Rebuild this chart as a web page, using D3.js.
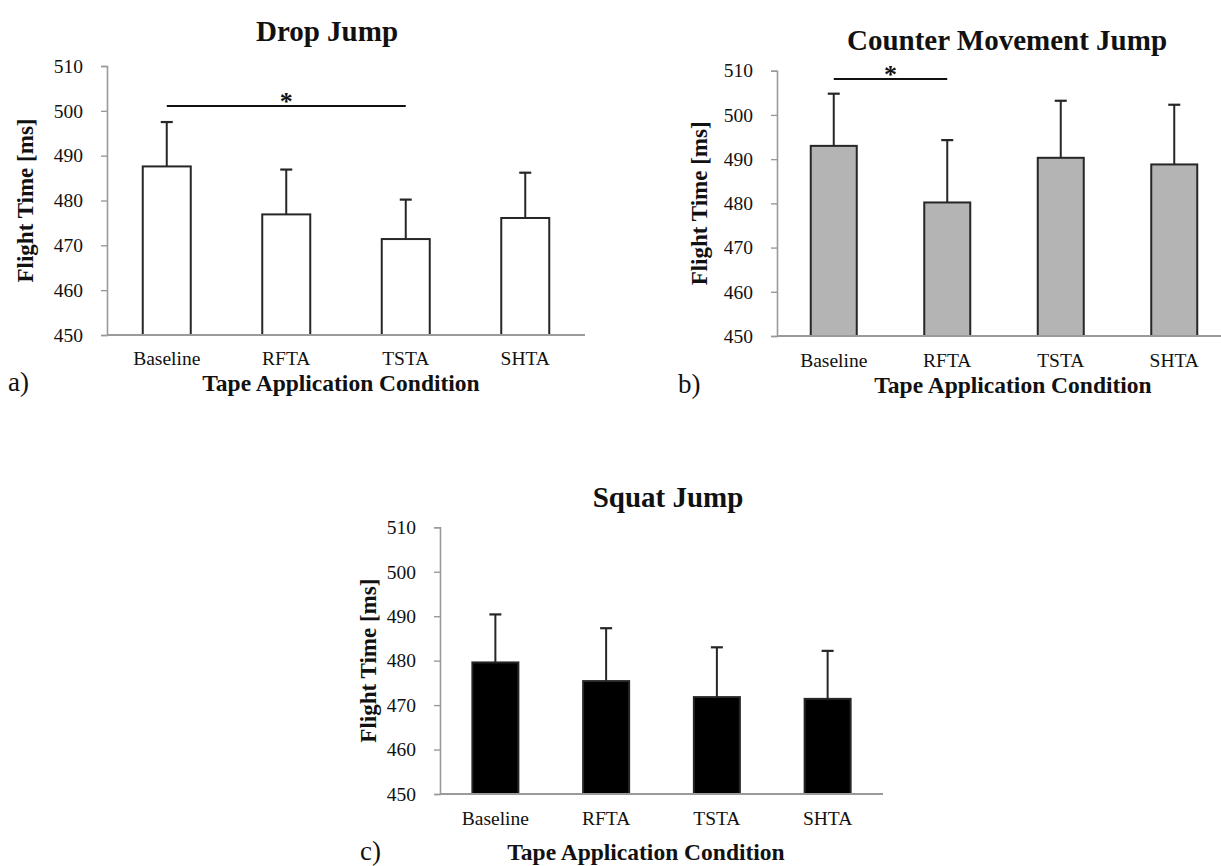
<!DOCTYPE html>
<html>
<head>
<meta charset="utf-8">
<script src="https://cdn.jsdelivr.net/npm/d3@7"></script>
<style>
  html, body { margin: 0; padding: 0; background: #fff; }
  svg { display: block; }
  text { font-family: "Liberation Serif", "Times New Roman", serif; fill: #111; }
</style>
</head>
<body>
<svg id="fig" width="1221" height="866"></svg>
<script>
// Flight time (ms) per tape application condition: mean and SD
const categories = ["Baseline", "RFTA", "TSTA", "SHTA"];
const yTicks = [450, 460, 470, 480, 490, 500, 510];

const dropJumpMean = [487.6, 476.9, 471.4, 476.1];
const dropJumpSD   = [9.9, 10.0, 8.8, 10.1];

const cmjMean = [493.0, 480.2, 490.3, 488.8];
const cmjSD   = [11.8, 14.1, 12.9, 13.5];

const squatMean = [479.6, 475.4, 471.8, 471.4];
const squatSD   = [10.8, 11.9, 11.2, 10.8];

// significant pairwise difference marked with a bracket line and asterisk
const dropJumpSig = [{ from: "Baseline", to: "TSTA", level: 501.1 }];
const cmjSig      = [{ from: "Baseline", to: "RFTA", level: 508.1 }];
const squatSig    = [];

const svg = d3.select("#fig");

function drawPanel(cfg) {
  const g = svg.append("g");
  const data = categories.map((c, i) => ({ cat: c, mean: cfg.mean[i], sd: cfg.sd[i] }));

  const x = d3.scalePoint().domain(categories).range([cfg.left, cfg.right]).padding(0.5);
  const y = d3.scaleLinear().domain([450, 510]).range([cfg.bottom, cfg.top]);

  // y axis
  const yAxis = d3.axisLeft(y).tickValues(yTicks).tickSize(6).tickPadding(18).tickFormat(d3.format("d"));
  const ya = g.append("g").attr("transform", `translate(${cfg.left},0)`).call(yAxis);
  ya.select(".domain").attr("stroke", "#9a9a9a").attr("stroke-width", 1.6);
  ya.selectAll(".tick line").attr("stroke", "#9a9a9a").attr("stroke-width", 1.4);
  ya.selectAll(".tick text")
    .style("font-family", "Liberation Serif")
    .style("font-size", "19.5px")
    .attr("fill", "#111");

  // bars
  g.selectAll("rect.bar").data(data).join("rect")
    .attr("class", "bar")
    .attr("x", d => x(d.cat) - cfg.barW / 2)
    .attr("y", d => y(d.mean))
    .attr("width", cfg.barW)
    .attr("height", d => y(450) - y(d.mean))
    .attr("fill", cfg.fill)
    .attr("stroke", "#262626")
    .attr("stroke-width", 2);

  // upper error bars
  g.selectAll("line.err").data(data).join("line")
    .attr("class", "err")
    .attr("x1", d => x(d.cat)).attr("x2", d => x(d.cat))
    .attr("y1", d => y(d.mean)).attr("y2", d => y(d.mean + d.sd))
    .attr("stroke", "#262626").attr("stroke-width", 2);
  g.selectAll("line.cap").data(data).join("line")
    .attr("class", "cap")
    .attr("x1", d => x(d.cat) - 6).attr("x2", d => x(d.cat) + 6)
    .attr("y1", d => y(d.mean + d.sd)).attr("y2", d => y(d.mean + d.sd))
    .attr("stroke", "#262626").attr("stroke-width", 2.2);

  // x baseline
  g.append("line")
    .attr("x1", cfg.left).attr("x2", cfg.right)
    .attr("y1", y(450)).attr("y2", y(450))
    .attr("stroke", "#9a9a9a").attr("stroke-width", 1.8);

  // category labels
  g.selectAll("text.cat").data(categories).join("text")
    .attr("class", "cat")
    .attr("x", d => x(d))
    .attr("y", cfg.catY)
    .attr("text-anchor", "middle")
    .style("font-size", "19.5px")
    .text(d => d);

  // significance brackets
  cfg.sig.forEach(s => {
    const yy = y(s.level);
    g.append("line")
      .attr("x1", x(s.from)).attr("x2", x(s.to))
      .attr("y1", yy).attr("y2", yy)
      .attr("stroke", "#111").attr("stroke-width", 2);
    g.append("text")
      .attr("x", (x(s.from) + x(s.to)) / 2)
      .attr("y", yy + 4)
      .attr("text-anchor", "middle")
      .style("font-size", "26px")
      .style("font-weight", "bold")
      .text("*");
  });

  // title
  g.append("text")
    .attr("x", cfg.titleX).attr("y", cfg.titleY)
    .attr("text-anchor", "middle")
    .style("font-size", "29px").style("font-weight", "bold")
    .text(cfg.title);

  // y-axis title
  g.append("text")
    .attr("transform", `translate(${cfg.yLabX},${(cfg.top + cfg.bottom) / 2}) rotate(-90)`)
    .attr("text-anchor", "middle")
    .style("font-size", "23px").style("font-weight", "bold")
    .text("Flight Time [ms]");

  // x-axis title
  g.append("text")
    .attr("x", cfg.xLabX).attr("y", cfg.xLabY)
    .attr("text-anchor", "middle")
    .style("font-size", "23.5px").style("font-weight", "bold")
    .text("Tape Application Condition");

  // panel letter
  g.append("text")
    .attr("x", cfg.letterX).attr("y", cfg.xLabY)
    .style("font-size", "27px")
    .text(cfg.letter);
}

drawPanel({
  title: "Drop Jump", letter: "a)",
  mean: dropJumpMean, sd: dropJumpSD, sig: dropJumpSig, fill: "#ffffff",
  left: 107, right: 585, top: 66, bottom: 335, barW: 48,
  catY: 365, titleX: 327, titleY: 41, yLabX: 33, xLabX: 341, xLabY: 391, letterX: 8
});

drawPanel({
  title: "Counter Movement Jump", letter: "b)",
  mean: cmjMean, sd: cmjSD, sig: cmjSig, fill: "#b4b4b4",
  left: 777, right: 1231, top: 70.7, bottom: 336, barW: 46,
  catY: 367, titleX: 1007, titleY: 50, yLabX: 707, xLabX: 1013, xLabY: 393, letterX: 678
});

drawPanel({
  title: "Squat Jump", letter: "c)",
  mean: squatMean, sd: squatSD, sig: squatSig, fill: "#000000",
  left: 440, right: 883, top: 527.3, bottom: 794, barW: 46,
  catY: 825, titleX: 668, titleY: 507, yLabX: 376, xLabX: 646, xLabY: 860, letterX: 360
});
</script>
</body>
</html>
